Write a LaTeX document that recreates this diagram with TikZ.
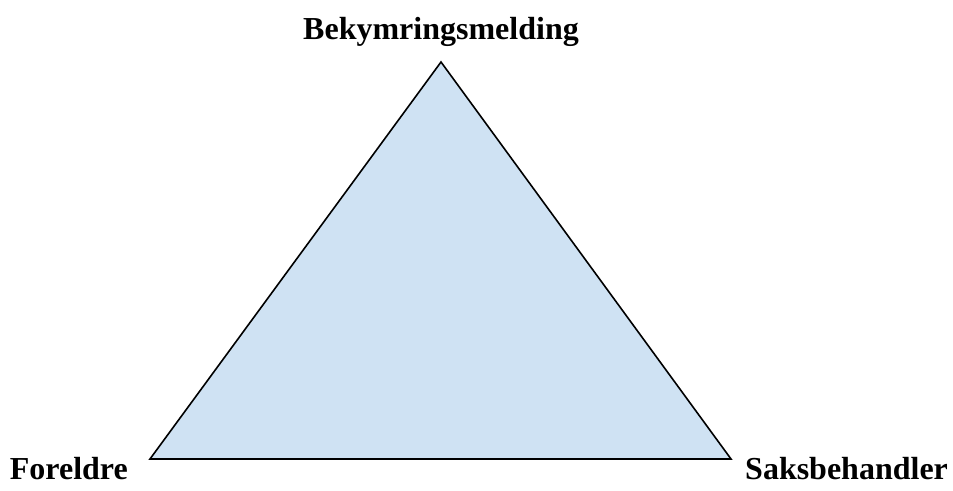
\documentclass[tikz,border=0pt]{standalone}
\usepackage{fontspec}
\setmainfont{Liberation Serif}
\usepackage{xcolor}
\usepackage{tikz}
\usetikzlibrary{positioning, calc}
\definecolor{paleblue}{HTML}{CFE2F3}

\begin{document}
\begin{tikzpicture}[x=1pt, y=1pt,
    corner/.style={font=\fontsize{32}{38}\selectfont\bfseries, inner sep=0pt},
    side/.style={draw=black, fill=paleblue, line width=1.6pt, line join=miter}
]
    \useasboundingbox (0,0) rectangle (953,490);
    \coordinate (top) at (441,428);
    \coordinate (left) at (150,31);
    \coordinate (right) at (731,31);

    \filldraw [side] (top) -- (left) -- (right) -- cycle;

    \node [corner, anchor=base] (melding) at (441,450) {Bekymringsmelding};
    \node [corner, anchor=base east] (foreldre) at (128,11) {Foreldre};
    \node [corner, anchor=base west] (saks) at (745,11) {Saksbehandler};
\end{tikzpicture}
\end{document}
